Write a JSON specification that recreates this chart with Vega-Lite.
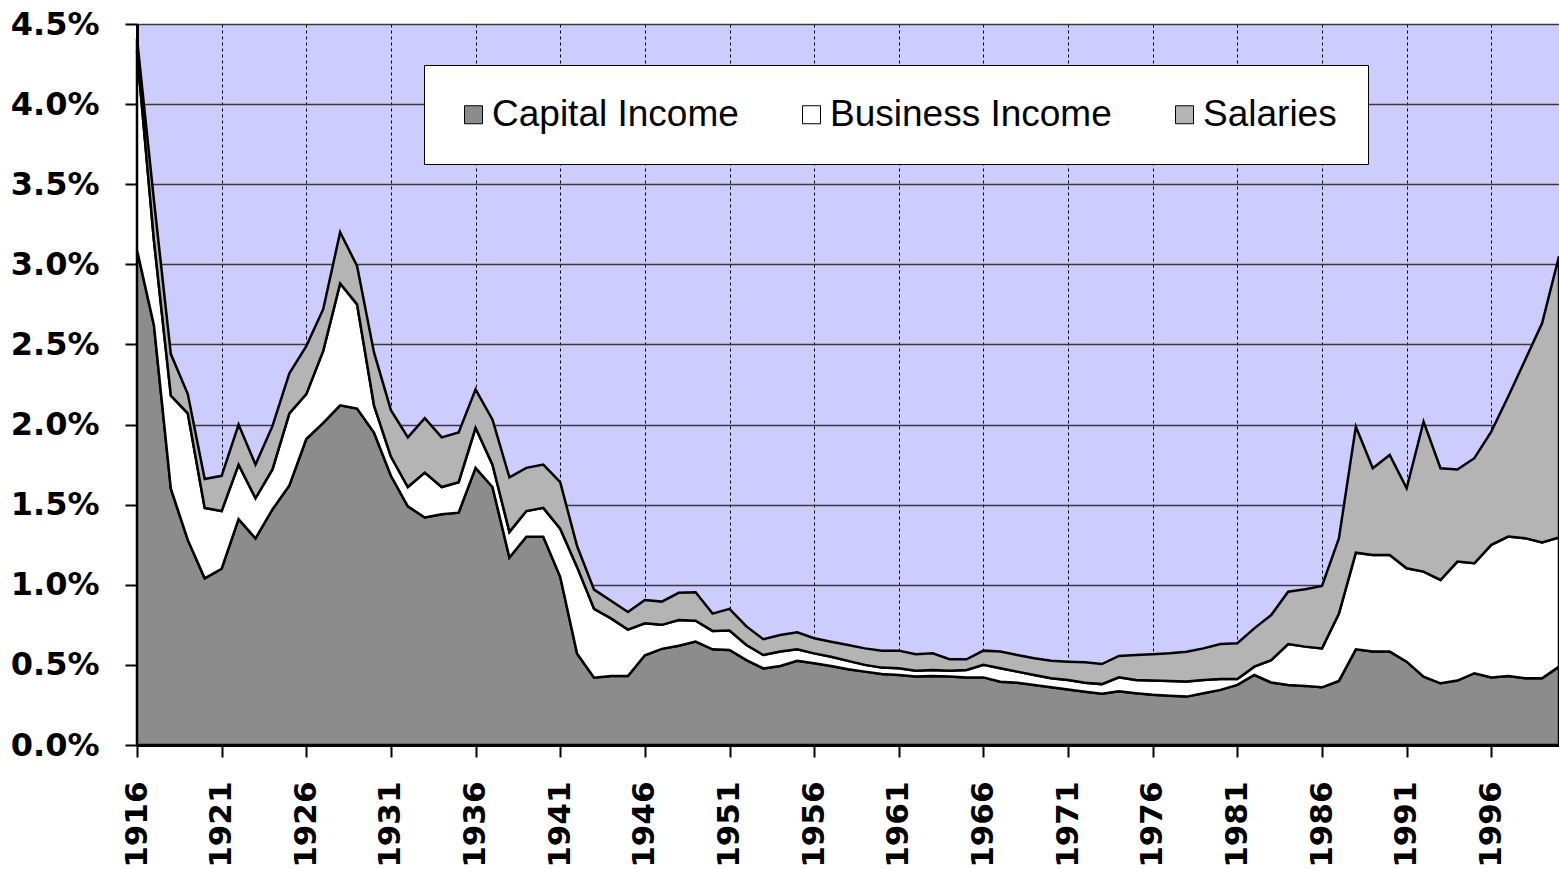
{
  "$schema": "https://vega.github.io/schema/vega-lite/v6.json",
  "width": 1422,
  "height": 721,
  "autosize": "none",
  "padding": {"left": 137, "top": 24, "right": 0, "bottom": 124},
  "background": "white",
  "view": {"fill": "#ccccff", "stroke": null},
  "data": {
    "values": [
      {"year": 1916, "Capital Income": 3.09, "Business Income": 1.24, "Salaries": 0.08},
      {"year": 1917, "Capital Income": 2.62, "Business Income": 0.53, "Salaries": 0.25},
      {"year": 1918, "Capital Income": 1.60, "Business Income": 0.58, "Salaries": 0.26},
      {"year": 1919, "Capital Income": 1.28, "Business Income": 0.79, "Salaries": 0.12},
      {"year": 1920, "Capital Income": 1.04, "Business Income": 0.44, "Salaries": 0.18},
      {"year": 1921, "Capital Income": 1.10, "Business Income": 0.36, "Salaries": 0.22},
      {"year": 1922, "Capital Income": 1.41, "Business Income": 0.34, "Salaries": 0.25},
      {"year": 1923, "Capital Income": 1.29, "Business Income": 0.25, "Salaries": 0.21},
      {"year": 1924, "Capital Income": 1.47, "Business Income": 0.25, "Salaries": 0.27},
      {"year": 1925, "Capital Income": 1.62, "Business Income": 0.45, "Salaries": 0.25},
      {"year": 1926, "Capital Income": 1.91, "Business Income": 0.28, "Salaries": 0.30},
      {"year": 1927, "Capital Income": 2.01, "Business Income": 0.45, "Salaries": 0.26},
      {"year": 1928, "Capital Income": 2.12, "Business Income": 0.76, "Salaries": 0.32},
      {"year": 1929, "Capital Income": 2.10, "Business Income": 0.65, "Salaries": 0.24},
      {"year": 1930, "Capital Income": 1.95, "Business Income": 0.17, "Salaries": 0.33},
      {"year": 1931, "Capital Income": 1.68, "Business Income": 0.12, "Salaries": 0.29},
      {"year": 1932, "Capital Income": 1.49, "Business Income": 0.12, "Salaries": 0.31},
      {"year": 1933, "Capital Income": 1.42, "Business Income": 0.28, "Salaries": 0.34},
      {"year": 1934, "Capital Income": 1.44, "Business Income": 0.17, "Salaries": 0.31},
      {"year": 1935, "Capital Income": 1.45, "Business Income": 0.19, "Salaries": 0.31},
      {"year": 1936, "Capital Income": 1.73, "Business Income": 0.25, "Salaries": 0.24},
      {"year": 1937, "Capital Income": 1.61, "Business Income": 0.14, "Salaries": 0.28},
      {"year": 1938, "Capital Income": 1.17, "Business Income": 0.16, "Salaries": 0.34},
      {"year": 1939, "Capital Income": 1.30, "Business Income": 0.16, "Salaries": 0.27},
      {"year": 1940, "Capital Income": 1.30, "Business Income": 0.18, "Salaries": 0.27},
      {"year": 1941, "Capital Income": 1.05, "Business Income": 0.30, "Salaries": 0.29},
      {"year": 1942, "Capital Income": 0.57, "Business Income": 0.54, "Salaries": 0.13},
      {"year": 1943, "Capital Income": 0.42, "Business Income": 0.43, "Salaries": 0.12},
      {"year": 1944, "Capital Income": 0.43, "Business Income": 0.36, "Salaries": 0.11},
      {"year": 1945, "Capital Income": 0.43, "Business Income": 0.29, "Salaries": 0.11},
      {"year": 1946, "Capital Income": 0.56, "Business Income": 0.20, "Salaries": 0.145},
      {"year": 1947, "Capital Income": 0.60, "Business Income": 0.15, "Salaries": 0.145},
      {"year": 1948, "Capital Income": 0.62, "Business Income": 0.16, "Salaries": 0.17},
      {"year": 1949, "Capital Income": 0.645, "Business Income": 0.131, "Salaries": 0.177},
      {"year": 1950, "Capital Income": 0.597, "Business Income": 0.115, "Salaries": 0.108},
      {"year": 1951, "Capital Income": 0.593, "Business Income": 0.121, "Salaries": 0.136},
      {"year": 1952, "Capital Income": 0.53, "Business Income": 0.094, "Salaries": 0.116},
      {"year": 1953, "Capital Income": 0.478, "Business Income": 0.084, "Salaries": 0.098},
      {"year": 1954, "Capital Income": 0.493, "Business Income": 0.09, "Salaries": 0.103},
      {"year": 1955, "Capital Income": 0.526, "Business Income": 0.071, "Salaries": 0.106},
      {"year": 1956, "Capital Income": 0.51, "Business Income": 0.062, "Salaries": 0.094},
      {"year": 1957, "Capital Income": 0.493, "Business Income": 0.058, "Salaries": 0.094},
      {"year": 1958, "Capital Income": 0.473, "Business Income": 0.052, "Salaries": 0.099},
      {"year": 1959, "Capital Income": 0.458, "Business Income": 0.042, "Salaries": 0.103},
      {"year": 1960, "Capital Income": 0.443, "Business Income": 0.04, "Salaries": 0.106},
      {"year": 1961, "Capital Income": 0.437, "Business Income": 0.042, "Salaries": 0.11},
      {"year": 1962, "Capital Income": 0.427, "Business Income": 0.037, "Salaries": 0.102},
      {"year": 1963, "Capital Income": 0.431, "Business Income": 0.037, "Salaries": 0.104},
      {"year": 1964, "Capital Income": 0.427, "Business Income": 0.037, "Salaries": 0.071},
      {"year": 1965, "Capital Income": 0.422, "Business Income": 0.046, "Salaries": 0.067},
      {"year": 1966, "Capital Income": 0.422, "Business Income": 0.078, "Salaries": 0.089},
      {"year": 1967, "Capital Income": 0.395, "Business Income": 0.084, "Salaries": 0.104},
      {"year": 1968, "Capital Income": 0.389, "Business Income": 0.069, "Salaries": 0.104},
      {"year": 1969, "Capital Income": 0.375, "Business Income": 0.062, "Salaries": 0.104},
      {"year": 1970, "Capital Income": 0.36, "Business Income": 0.056, "Salaries": 0.11},
      {"year": 1971, "Capital Income": 0.347, "Business Income": 0.059, "Salaries": 0.114},
      {"year": 1972, "Capital Income": 0.333, "Business Income": 0.056, "Salaries": 0.127},
      {"year": 1973, "Capital Income": 0.32, "Business Income": 0.06, "Salaries": 0.125},
      {"year": 1974, "Capital Income": 0.335, "Business Income": 0.087, "Salaries": 0.134},
      {"year": 1975, "Capital Income": 0.323, "Business Income": 0.083, "Salaries": 0.155},
      {"year": 1976, "Capital Income": 0.313, "Business Income": 0.089, "Salaries": 0.164},
      {"year": 1977, "Capital Income": 0.308, "Business Income": 0.092, "Salaries": 0.172},
      {"year": 1978, "Capital Income": 0.302, "Business Income": 0.094, "Salaries": 0.186},
      {"year": 1979, "Capital Income": 0.323, "Business Income": 0.083, "Salaries": 0.197},
      {"year": 1980, "Capital Income": 0.344, "Business Income": 0.068, "Salaries": 0.218},
      {"year": 1981, "Capital Income": 0.375, "Business Income": 0.037, "Salaries": 0.223},
      {"year": 1982, "Capital Income": 0.437, "Business Income": 0.052, "Salaries": 0.239},
      {"year": 1983, "Capital Income": 0.39, "Business Income": 0.14, "Salaries": 0.281},
      {"year": 1984, "Capital Income": 0.375, "Business Income": 0.255, "Salaries": 0.327},
      {"year": 1985, "Capital Income": 0.369, "Business Income": 0.245, "Salaries": 0.358},
      {"year": 1986, "Capital Income": 0.36, "Business Income": 0.243, "Salaries": 0.39},
      {"year": 1987, "Capital Income": 0.40, "Business Income": 0.42, "Salaries": 0.47},
      {"year": 1988, "Capital Income": 0.597, "Business Income": 0.603, "Salaries": 0.787},
      {"year": 1989, "Capital Income": 0.583, "Business Income": 0.603, "Salaries": 0.541},
      {"year": 1990, "Capital Income": 0.583, "Business Income": 0.603, "Salaries": 0.624},
      {"year": 1991, "Capital Income": 0.52, "Business Income": 0.583, "Salaries": 0.499},
      {"year": 1992, "Capital Income": 0.427, "Business Income": 0.655, "Salaries": 0.936},
      {"year": 1993, "Capital Income": 0.385, "Business Income": 0.645, "Salaries": 0.697},
      {"year": 1994, "Capital Income": 0.402, "Business Income": 0.743, "Salaries": 0.575},
      {"year": 1995, "Capital Income": 0.448, "Business Income": 0.686, "Salaries": 0.656},
      {"year": 1996, "Capital Income": 0.421, "Business Income": 0.828, "Salaries": 0.707},
      {"year": 1997, "Capital Income": 0.431, "Business Income": 0.87, "Salaries": 0.874},
      {"year": 1998, "Capital Income": 0.416, "Business Income": 0.875, "Salaries": 1.112},
      {"year": 1999, "Capital Income": 0.416, "Business Income": 0.848, "Salaries": 1.368},
      {"year": 2000, "Capital Income": 0.489, "Business Income": 0.807, "Salaries": 1.754}
    ]
  },
  "transform": [
    {"fold": ["Capital Income", "Business Income", "Salaries"], "as": ["series", "share"]},
    {"stack": "share", "groupby": ["year"], "as": ["s0", "s1"]}
  ],
  "mark": {"type": "area", "stroke": "black", "strokeWidth": 2.5, "strokeJoin": "miter", "opacity": 1, "fillOpacity": 1},
  "encoding": {
    "x": {
      "field": "year",
      "type": "quantitative",
      "scale": {"domain": [1916, 2000], "nice": false, "zero": false},
      "axis": {
        "title": null,
        "values": [1916, 1921, 1926, 1931, 1936, 1941, 1946, 1951, 1956, 1961, 1966, 1971, 1976, 1981, 1986, 1991, 1996],
        "format": "d",
        "labelAngle": 270,
        "labelFont": "DejaVu Sans",
        "labelFontWeight": "bold",
        "labelFontSize": 31,
        "labelColor": "black",
        "labelPadding": 24,
        "labelFlush": false,
        "labelOverlap": false,
        "tickColor": "black",
        "tickWidth": 2,
        "tickSize": 12,
        "domainColor": "black",
        "domainWidth": 3,
        "grid": true,
        "gridColor": "black",
        "gridWidth": 1,
        "gridDash": [3, 3]
      }
    },
    "y": {
      "field": "s1",
      "type": "quantitative",
      "scale": {"domain": [0, 4.5], "nice": false},
      "axis": {
        "title": null,
        "values": [0, 0.5, 1, 1.5, 2, 2.5, 3, 3.5, 4, 4.5],
        "labelExpr": "format(datum.value, '.1f') + '%'",
        "labelFont": "DejaVu Sans",
        "labelFontWeight": "bold",
        "labelFontSize": 32,
        "labelColor": "black",
        "labelPadding": 26,
        "labelFlush": false,
        "labelOverlap": false,
        "tickColor": "black",
        "tickWidth": 2,
        "tickSize": 12,
        "domainColor": "black",
        "domainWidth": 3,
        "grid": true,
        "gridColor": "#3a3a3a",
        "gridWidth": 1.5
      }
    },
    "y2": {"field": "s0"},
    "color": {
      "field": "series",
      "type": "nominal",
      "sort": ["Capital Income", "Business Income", "Salaries"],
      "scale": {
        "domain": ["Capital Income", "Business Income", "Salaries"],
        "range": ["#8c8c8c", "#ffffff", "#b4b4b4"]
      },
      "legend": {
        "title": null,
        "orient": "none",
        "legendX": 287,
        "legendY": 41,
        "direction": "horizontal",
        "columns": 3,
        "symbolType": "square",
        "symbolSize": 324,
        "symbolStrokeColor": "black",
        "symbolStrokeWidth": 1,
        "symbolOpacity": 1,
        "labelFont": "Liberation Sans",
        "labelFontSize": 37,
        "labelColor": "black",
        "labelLimit": 500,
        "labelOffset": 0,
        "columnPadding": 54,
        "padding": 31,
        "fillColor": "white",
        "strokeColor": "black"
      }
    }
  }
}
